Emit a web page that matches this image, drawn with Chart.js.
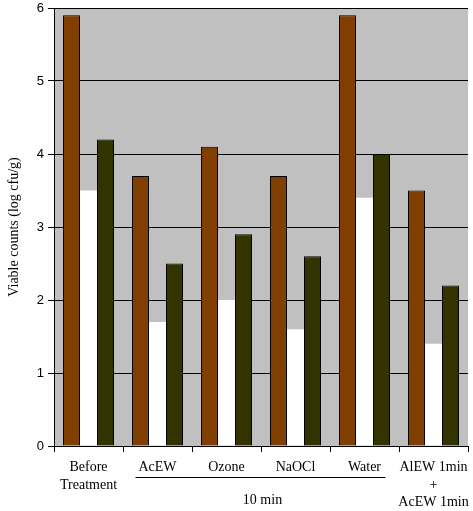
<!DOCTYPE html>
<html lang="en">
<head>
    <meta charset="UTF-8">
    <title>Viable counts</title>
    <script src="https://cdn.jsdelivr.net/npm/chart.js"></script>
    <style>
        body { margin: 0; background: #fff; }
        #wrap { width: 473px; height: 511px; }
    </style>
</head>
<body>
    <div id="wrap"><canvas id="myChart" width="473" height="511"></canvas></div>

    <script>
        // categories (multi-line labels)
        const categories = [
            ['Before', 'Treatment'],
            'AcEW',
            'Ozone',
            'NaOCl',
            'Water',
            ['AlEW 1min', '+', 'AcEW 1min']
        ];
        const seriesA = [5.9, 3.7, 4.1, 3.7, 5.9, 3.5];
        const seriesB = [3.5, 1.7, 2.0, 1.6, 3.4, 1.4];
        const seriesC = [4.2, 2.5, 2.9, 2.6, 4.0, 2.2];
        const yTicks = [0, 1, 2, 3, 4, 5, 6];
        const groupNote = '10 min';

        // gray plot background + the "10 min" bracket under AcEW..Water
        const plotDeco = {
            id: 'plotDeco',
            beforeDraw(chart) {
                const a = chart.chartArea, c = chart.ctx;
                c.save();
                c.fillStyle = '#c0c0c0';
                c.fillRect(a.left, a.top, a.right - a.left, a.bottom - a.top);
                c.restore();
            },
            afterDraw(chart) {
                const x = chart.scales.x, c = chart.ctx;
                const x1 = x.getPixelForValue(1) - 22;
                const x2 = x.getPixelForValue(4) + 21;
                const y = chart.chartArea.bottom + 31;
                c.save();
                c.strokeStyle = '#000';
                c.lineWidth = 1;
                c.beginPath();
                c.moveTo(x1, y + 0.5);
                c.lineTo(x2, y + 0.5);
                c.stroke();
                c.fillStyle = '#000';
                c.font = '14px "Liberation Serif"';
                c.textAlign = 'center';
                c.textBaseline = 'middle';
                c.fillText(groupNote, (x1 + x2) / 2 + 2, y + 23);
                c.restore();
            }
        };

        const ctx = document.getElementById('myChart').getContext('2d');
        const myChart = new Chart(ctx, {
            type: 'bar',
            data: {
                labels: categories,
                datasets: [{
                    data: seriesA,
                    backgroundColor: '#803f00',
                    borderColor: '#000',
                    borderWidth: 1
                }, {
                    data: seriesB,
                    backgroundColor: '#ffffff',
                    borderWidth: 0
                }, {
                    data: seriesC,
                    backgroundColor: '#333300',
                    borderColor: '#000',
                    borderWidth: 1
                }]
            },
            options: {
                responsive: false,
                animation: false,
                devicePixelRatio: 1,
                layout: { padding: { top: 8, right: 5, left: 0, bottom: 0 } },
                datasets: { bar: { categoryPercentage: 0.74, barPercentage: 1 } },
                plugins: {
                    legend: { display: false },
                    tooltip: { enabled: false }
                },
                scales: {
                    x: {
                        afterFit(s) {
                            s.height = 65;
                            s.paddingLeft = 0;
                            s.paddingRight = 0;
                        },
                        grid: {
                            offset: true,
                            drawOnChartArea: false,
                            color: '#000',
                            tickLength: 6
                        },
                        border: { color: '#000' },
                        ticks: {
                            color: '#000',
                            padding: 7,
                            maxRotation: 0,
                            autoSkip: false,
                            font: { family: '"Liberation Serif"', size: 14, lineHeight: 1.25 }
                        }
                    },
                    y: {
                        min: 0,
                        max: 6,
                        afterFit(s) {
                            s.width = 54;
                            s.paddingTop = 0;
                        },
                        afterBuildTicks(s) { s.ticks = yTicks.map(v => ({ value: v })); },
                        grid: {
                            color: '#000',
                            tickLength: 6
                        },
                        border: { color: '#000' },
                        ticks: {
                            color: '#000',
                            padding: 4,
                            font: { family: '"Liberation Sans"', size: 13 }
                        },
                        title: {
                            display: true,
                            text: 'Viable counts (log cfu/g)',
                            color: '#000',
                            padding: { top: 6, bottom: 4 },
                            font: { family: '"Liberation Serif"', size: 14 }
                        }
                    }
                }
            },
            plugins: [plotDeco]
        });
    </script>
</body>
</html>
